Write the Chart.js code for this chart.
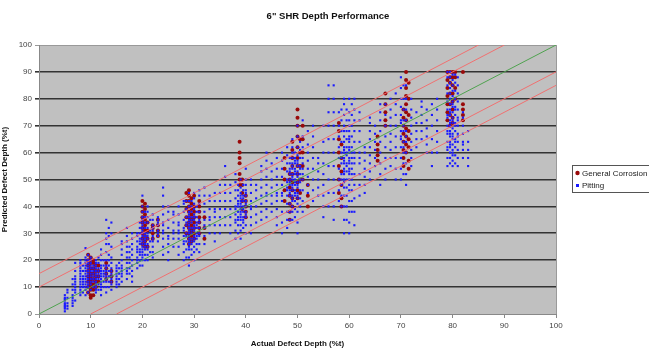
<!DOCTYPE html>
<html>
<head>
<meta charset="utf-8">
<script src="https://cdn.jsdelivr.net/npm/chart.js@4"></script>
<style>
  body { margin: 0; background: #fff; }
  #depth-chart { display: block; }
</style>
</head>
<body>
<canvas id="depth-chart" width="649" height="349"></canvas>
<script>
// Pitting readings, grouped by actual depth: [actual, [predicted...]]
const pittingColumns = [
  [5, [1, 2, 3, 4, 5, 6, 7, 3.5, 2.5, 5.5]],
  [5.5, [2, 4, 6, 8, 9, 3]],
  [6.5, [3, 5, 7, 9, 11, 13, 4, 6]],
  [7, [5, 8, 10, 12, 14, 16, 19, 9, 11, 13]],
  [8, [7, 9, 11, 12, 13, 14, 15, 16, 17, 18, 19, 20, 8, 10]],
  [8.5, [8, 10, 12, 14, 16, 18, 13, 11]],
  [9, [7, 9, 11, 13, 15, 17, 19, 21, 24.5, 10, 12, 14, 16, 18, 20]],
  [9.5, [8, 10, 12, 14, 16, 18, 20, 22, 11, 13, 15, 17, 19]],
  [10, [9, 11, 13, 15, 17, 19, 21, 12, 14, 16, 18, 20]],
  [10.5, [10, 12, 14, 16, 18, 13, 15, 17]],
  [11, [8, 10, 11, 12, 13, 14, 15, 16, 17, 18, 19, 20, 9]],
  [11.5, [9, 11, 13, 15, 17, 19, 21, 14, 16]],
  [12, [7, 9, 10, 11, 12, 13, 14, 15, 16, 17, 18, 20, 22, 24]],
  [12.5, [10, 12, 14, 16, 18, 20, 15]],
  [13, [8, 10, 12, 14, 16, 18, 20, 23, 26, 28, 30, 35, 13, 15, 17]],
  [13.5, [10, 12, 14, 16, 18, 20, 22, 26, 29, 32]],
  [14, [9, 11, 13, 15, 17, 19, 21, 25, 30, 34, 12, 14, 16]],
  [15, [10, 12, 13, 14, 15, 16, 17, 18, 11]],
  [15.5, [11, 13, 15, 17, 19]],
  [16, [12, 14, 16, 18, 20, 22, 24, 26, 27, 15, 17]],
  [17, [13, 15, 17, 19, 21, 23, 25, 27, 29, 32, 16]],
  [17.5, [15, 17, 19, 21, 23, 25]],
  [18, [12, 14, 16, 18, 20, 22, 24, 26, 28, 30]],
  [19, [17, 19, 21, 23, 25, 27, 29, 30, 20, 24]],
  [19.5, [18, 20, 22, 24, 26, 28, 30, 32, 34, 23, 27]],
  [20, [18, 20, 22, 24, 25, 26, 27, 28, 29, 30, 31, 32, 33, 34, 35, 36, 38, 40, 44, 23, 21]],
  [20.5, [20, 22, 24, 26, 28, 30, 32, 34, 36, 38, 25, 27, 29]],
  [21, [20, 22, 24, 26, 28, 30, 32, 34, 36, 38, 40, 25, 29]],
  [21.5, [23, 27, 31, 35]],
  [22, [21, 23, 25, 27, 29, 31, 33, 35, 37, 28, 32]],
  [23, [27, 29, 31, 33, 35, 36, 30, 34]],
  [24, [22, 25, 28, 31, 34, 37, 40, 44, 47, 30, 33]],
  [25, [20, 23, 26, 29, 32, 35, 38, 40, 28]],
  [26, [25, 28, 31, 34, 37, 38, 30]],
  [27, [22, 25, 28, 31, 34, 37, 40, 30, 33]],
  [28, [20, 23, 26, 29, 32, 35, 38, 41, 42, 27, 31]],
  [28.5, [21, 24, 27, 30, 33, 36, 39, 42, 29, 34]],
  [29, [18, 21, 24, 26, 28, 30, 32, 34, 36, 38, 40, 42, 45, 25, 27, 29, 31, 33, 35, 37]],
  [29.5, [22, 24, 26, 28, 30, 32, 34, 36, 38, 40, 42, 27, 31, 35]],
  [30, [20, 23, 25, 27, 29, 31, 33, 35, 37, 39, 41, 43, 45, 28, 32, 36]],
  [30.5, [24, 26, 28, 30, 32, 34, 36, 38, 40, 33, 29]],
  [31, [23, 26, 29, 32, 35, 38, 41, 44, 46, 30, 34]],
  [32, [26, 29, 32, 35, 38, 41, 44, 47, 33]],
  [33, [30, 33, 36, 39, 42, 44, 35]],
  [34, [27, 30, 33, 36, 39, 42, 45, 38]],
  [35, [30, 33, 36, 39, 42, 45, 48]],
  [36, [33, 36, 39, 42, 45, 48, 51, 55]],
  [37, [30, 33, 36, 39, 42, 45, 48]],
  [38, [28, 31, 34, 37, 40, 43, 46, 49, 52, 35, 39]],
  [38.5, [30, 33, 36, 38, 40, 42, 44, 46, 48, 35, 41]],
  [39, [28, 31, 33, 35, 37, 39, 41, 43, 45, 47, 50, 36, 38, 40, 42, 44]],
  [39.5, [32, 34, 36, 38, 40, 42, 44, 46, 48, 35, 39, 43]],
  [40, [30, 33, 36, 38, 40, 42, 44, 46, 48, 50, 54, 37, 41, 45]],
  [41, [30, 33, 36, 39, 42, 45, 48, 50, 40]],
  [42, [34, 37, 40, 43, 46, 48]],
  [43, [35, 38, 41, 44, 47, 50, 53, 55]],
  [44, [36, 39, 42, 45, 48, 51, 54, 57, 60, 44]],
  [45, [38, 41, 44, 47, 50, 53, 56]],
  [46, [33, 36, 39, 42, 45, 48, 51, 54, 58, 44]],
  [47, [30, 34, 38, 42, 45, 48, 51, 54, 57, 60, 44]],
  [48, [32, 35, 38, 41, 44, 47, 50, 53, 56, 59, 62, 46, 49]],
  [48.5, [35, 38, 41, 44, 46, 48, 50, 52, 54, 56, 58, 45, 49, 53]],
  [49, [35, 38, 40, 42, 44, 46, 48, 50, 52, 54, 56, 58, 60, 62, 65, 43, 47, 51, 55]],
  [49.5, [36, 39, 42, 44, 46, 48, 50, 52, 54, 56, 58, 60, 45, 49, 53, 57]],
  [50, [30, 34, 38, 41, 43, 45, 47, 49, 51, 53, 55, 57, 59, 62, 66, 70, 44, 48, 52, 56]],
  [50.5, [40, 43, 46, 49, 52, 55, 58, 61, 64, 50, 54]],
  [51, [38, 42, 46, 50, 54, 58, 62, 66, 72, 52, 56]],
  [52, [45, 48, 51, 54, 57, 60, 63, 68]],
  [53, [42, 46, 50, 54, 58, 62, 66, 70]],
  [54, [44, 47, 50, 53, 56, 58]],
  [55, [36, 40, 44, 48, 52, 56, 60, 64, 70]],
  [56, [40, 45, 50, 55, 60, 65, 70, 75, 80, 85]],
  [57, [35, 40, 45, 50, 55, 60, 65, 70, 75, 80, 85]],
  [58, [42, 46, 50, 54, 58, 62, 66, 70, 75]],
  [58.5, [40, 44, 48, 52, 56, 60, 64, 68, 72, 76, 50, 58]],
  [59, [30, 35, 40, 44, 47, 50, 52, 54, 56, 58, 60, 62, 64, 66, 68, 70, 74, 78, 80, 49, 53, 57, 61]],
  [59.5, [35, 40, 44, 47, 50, 53, 56, 59, 62, 65, 68, 72, 76, 55, 60]],
  [60, [30, 34, 38, 42, 46, 48, 50, 52, 54, 56, 58, 60, 62, 64, 66, 68, 70, 72, 75, 80, 53, 57, 61, 65]],
  [60.5, [38, 42, 46, 50, 54, 58, 62, 66, 70, 74, 78, 52, 56, 60]],
  [61, [33, 38, 43, 48, 52, 56, 60, 64, 68, 72, 76, 80, 58]],
  [62, [44, 48, 52, 56, 60, 64, 68, 72, 75, 58]],
  [63, [45, 48, 51, 54, 57, 60, 62]],
  [64, [50, 53, 56, 59, 62, 65, 68, 71, 73]],
  [65, [55, 58, 61, 64, 67, 70]],
  [66, [48, 52, 56, 60, 64, 68, 72, 75, 78]],
  [67, [50, 54, 58, 62, 66, 70, 74, 78]],
  [68, [55, 58, 61, 64, 67, 70, 73, 76, 80]],
  [69, [50, 54, 58, 62, 66, 70, 74, 78, 82]],
  [70, [50, 54, 58, 62, 65, 68, 71, 74, 77, 80, 84, 88, 66, 72]],
  [70.5, [52, 56, 60, 64, 68, 72, 76, 80, 85, 62, 70]],
  [71, [48, 52, 56, 60, 64, 68, 72, 76, 80, 85, 66]],
  [72, [55, 58, 61, 64, 67, 70, 73, 76, 80]],
  [73, [62, 65, 68, 71, 75]],
  [74, [65, 68, 71, 74, 77, 79]],
  [75, [60, 63, 66, 69, 72, 76]],
  [76, [55, 60, 65, 70, 74, 78]],
  [77, [60, 64, 68, 72, 76, 80]],
  [79, [55, 58, 61, 64, 67, 70, 73, 76, 79, 82, 85, 88, 90, 62, 68, 74]],
  [79.5, [56, 58, 60, 62, 64, 66, 68, 70, 72, 74, 76, 78, 80, 82, 84, 86, 88, 90, 63, 67, 71, 75]],
  [80, [55, 57, 59, 61, 63, 65, 67, 69, 71, 73, 75, 77, 79, 81, 83, 85, 87, 89, 60, 66, 72, 78]],
  [80.5, [56, 59, 62, 65, 68, 71, 74, 77, 80, 83, 86, 89, 64, 70, 76]],
  [81, [55, 58, 61, 64, 67, 70, 73, 76, 79, 82, 85, 88, 66, 72]],
  [82, [58, 61, 64, 67, 70, 73, 75, 63]],
  [83, [55, 58, 61, 64, 68]]
];

// General corrosion readings, same layout
const corrosionColumns = [
  [9.5, [8, 10, 12, 14, 16, 18, 20, 22]],
  [10, [6, 7, 9, 10, 11, 12, 13, 14, 15, 17, 19, 21]],
  [10.5, [7, 9, 11, 13, 15, 17, 19, 20]],
  [11, [10, 12, 14, 16, 18]],
  [11.5, [12, 14, 16, 18]],
  [13, [13, 15, 17, 19]],
  [14, [12, 14, 16]],
  [20, [26, 28, 30, 32, 34, 36, 38, 40, 42]],
  [20.5, [25, 27, 29, 31, 33, 35, 37, 39, 41]],
  [21, [25, 28, 31, 34]],
  [22, [28, 30, 32, 33]],
  [23, [29, 31, 33, 35]],
  [28.5, [30, 33, 36, 39, 42, 45]],
  [29, [26, 28, 30, 32, 34, 36, 38, 40, 42, 44, 46]],
  [29.5, [27, 29, 31, 33, 35, 37, 39, 41, 43]],
  [30, [28, 30, 32, 34, 36, 38, 40, 44]],
  [31, [30, 32, 34, 36, 38, 40, 42]],
  [32, [28, 32, 36]],
  [38.8, [56, 58, 60, 64, 48, 50, 52]],
  [39.3, [39, 42, 45, 48, 50]],
  [40, [36, 38, 40, 42, 44]],
  [47.5, [42, 46, 50, 54, 58]],
  [48.5, [35, 38, 41, 44, 47, 50, 52]],
  [49, [40, 43, 46, 49, 52, 55, 58, 61, 64]],
  [50, [43, 46, 49, 52, 55, 58, 62, 66, 70, 73, 76]],
  [50.5, [45, 50, 55, 60, 65]],
  [51, [50, 55, 60, 65, 70]],
  [52, [40, 44, 48]],
  [58, [45, 50, 55, 60, 65, 68, 71]],
  [58.5, [40, 43, 48, 53, 58, 63]],
  [65.5, [57, 59, 61, 63, 66]],
  [67, [70, 72, 75, 78, 82]],
  [70.5, [55, 58, 61, 64, 67, 70, 73, 76]],
  [71, [60, 63, 66, 69, 72, 75, 78, 81, 84, 87, 90]],
  [71.5, [54, 57, 62, 65, 68, 74, 80, 86]],
  [79, [72, 75, 78, 81, 84, 87, 90]],
  [79.5, [70, 74, 78, 82, 86, 90, 88]],
  [80, [71, 73, 76, 79, 82, 85, 88, 90]],
  [80.5, [80, 84, 88, 90]],
  [82, [72, 74, 76, 78, 90]]
];

// Reference lines: perfect match, +/-10 and +/-15 bands
const unityLine = [[0, 0], [100, 100]];
const plus10Line = [[0, 10], [90, 100]];
const plus15Line = [[0, 15], [85, 100]];
const minus10Line = [[10, 0], [100, 90]];
const minus15Line = [[15, 0], [100, 85]];

const axisTicks = [0, 10, 20, 30, 40, 50, 60, 70, 80, 90, 100];

const toPoints = (cols) =>
  cols.flatMap(([x, ys]) => ys.map((y) => ({ x: x, y: y })));
const toLine = (pts) => pts.map(([x, y]) => ({ x: x, y: y }));

const lineSet = (pts, color) => ({
  data: toLine(pts),
  showLine: true,
  borderColor: color,
  borderWidth: 1,
  pointRadius: 0,
  fill: false,
  order: 0,
});

const FONT = "'Liberation Sans', Arial, sans-serif";

// gray plot area, right border, title and boxed legend
const plotDecor = {
  id: "plotDecor",
  beforeDatasetsDraw(chart) {
    const { ctx, chartArea: a } = chart;
    ctx.save();
    ctx.strokeStyle = "#9a9a9a";
    ctx.lineWidth = 1;
    ctx.beginPath();
    ctx.moveTo(a.right + 0.5, a.top);
    ctx.lineTo(a.right + 0.5, a.bottom);
    ctx.stroke();
    ctx.restore();
  },
  beforeDraw(chart) {
    const { ctx, chartArea: a } = chart;
    ctx.save();
    ctx.fillStyle = "#c0c0c0";
    ctx.fillRect(a.left, a.top, a.right - a.left, a.bottom - a.top);
    ctx.restore();
  },
  afterDraw(chart) {
    const ctx = chart.ctx;
    ctx.save();
    ctx.fillStyle = "#111";
    ctx.font = "bold 9.5px " + FONT;
    ctx.textAlign = "center";
    ctx.textBaseline = "middle";
    ctx.fillText("6\" SHR Depth Performance", 328, 16);

    // legend
    const lx = 572, ly = 165;
    ctx.fillStyle = "#fff";
    ctx.fillRect(lx, ly, 90, 28);
    ctx.strokeStyle = "#555";
    ctx.lineWidth = 1;
    ctx.strokeRect(lx + 0.5, ly + 0.5, 90, 27);
    const items = chart.data.datasets.filter((d) => d.label);
    items.forEach((d, i) => {
      const y = ly + 8 + i * 12;
      ctx.fillStyle = d.backgroundColor;
      if (d.pointStyle === "rect") {
        ctx.fillRect(lx + 4, y - 1, 3, 3);
      } else {
        ctx.beginPath();
        ctx.arc(lx + 5.5, y, 2.2, 0, Math.PI * 2);
        ctx.fill();
      }
      ctx.fillStyle = "#222";
      ctx.font = "8px " + FONT;
      ctx.textAlign = "left";
      ctx.fillText(d.label, lx + 10, y + 0.5);
    });
    ctx.restore();
  },
};

const ctx = document.getElementById("depth-chart");

new Chart(ctx, {
  type: "scatter",
  data: {
    datasets: [
      lineSet(plus15Line, "#f07070"),
      lineSet(plus10Line, "#f07070"),
      lineSet(unityLine, "#4fa24f"),
      lineSet(minus10Line, "#f07070"),
      lineSet(minus15Line, "#f07070"),
      {
        label: "General Corrosion",
        data: toPoints(corrosionColumns),
        backgroundColor: "#990a0a",
        borderWidth: 0,
        pointRadius: 2,
        pointStyle: "circle",
        order: 2,
      },
      {
        label: "Pitting",
        data: toPoints(pittingColumns),
        backgroundColor: "#1a1aff",
        borderWidth: 0,
        pointRadius: 1.5,
        pointStyle: "rect",
        order: 1,
      },
    ],
  },
  options: {
    responsive: false,
    animation: false,
    devicePixelRatio: 1,
    layout: { padding: { top: 45, right: 93, left: 0, bottom: 0 } },
    plugins: {
      legend: { display: false },
      tooltip: { enabled: false },
    },
    scales: {
      x: {
        type: "linear",
        min: 0,
        max: 100,
        afterFit: (s) => { s.height = 35; },
        afterBuildTicks: (s) => { s.ticks = axisTicks.map((v) => ({ value: v })); },
        grid: {
          drawOnChartArea: false,
          drawTicks: true,
          tickLength: 4,
          color: "#888",
        },
        border: { color: "#888", width: 1 },
        ticks: { color: "#444", font: { family: FONT, size: 8 }, padding: 3, maxRotation: 0 },
        title: {
          display: true,
          text: "Actual Defect Depth (%t)",
          color: "#111",
          font: { family: FONT, size: 8, weight: "bold" },
          padding: { top: 2, bottom: 0 },
        },
      },
      y: {
        type: "linear",
        min: 0,
        max: 100,
        afterFit: (s) => { s.width = 39; },
        afterBuildTicks: (s) => { s.ticks = axisTicks.map((v) => ({ value: v })); },
        grid: {
          drawTicks: true,
          tickLength: 4,
          lineWidth: (c) => (c.tick && (c.tick.value === 0 || c.tick.value === 100) ? 1 : 1.6),
          color: (c) => (c.tick && (c.tick.value === 0 || c.tick.value === 100) ? "#999" : "#333"),
        },
        border: { color: "#888", width: 1 },
        ticks: { color: "#444", font: { family: FONT, size: 8 }, padding: 3 },
        title: {
          display: true,
          text: "Predicted Defect Depth (%t)",
          color: "#111",
          font: { family: FONT, size: 8, weight: "bold" },
          padding: { top: 0, bottom: 2 },
        },
      },
    },
  },
  plugins: [plotDecor],
});
</script>
</body>
</html>
